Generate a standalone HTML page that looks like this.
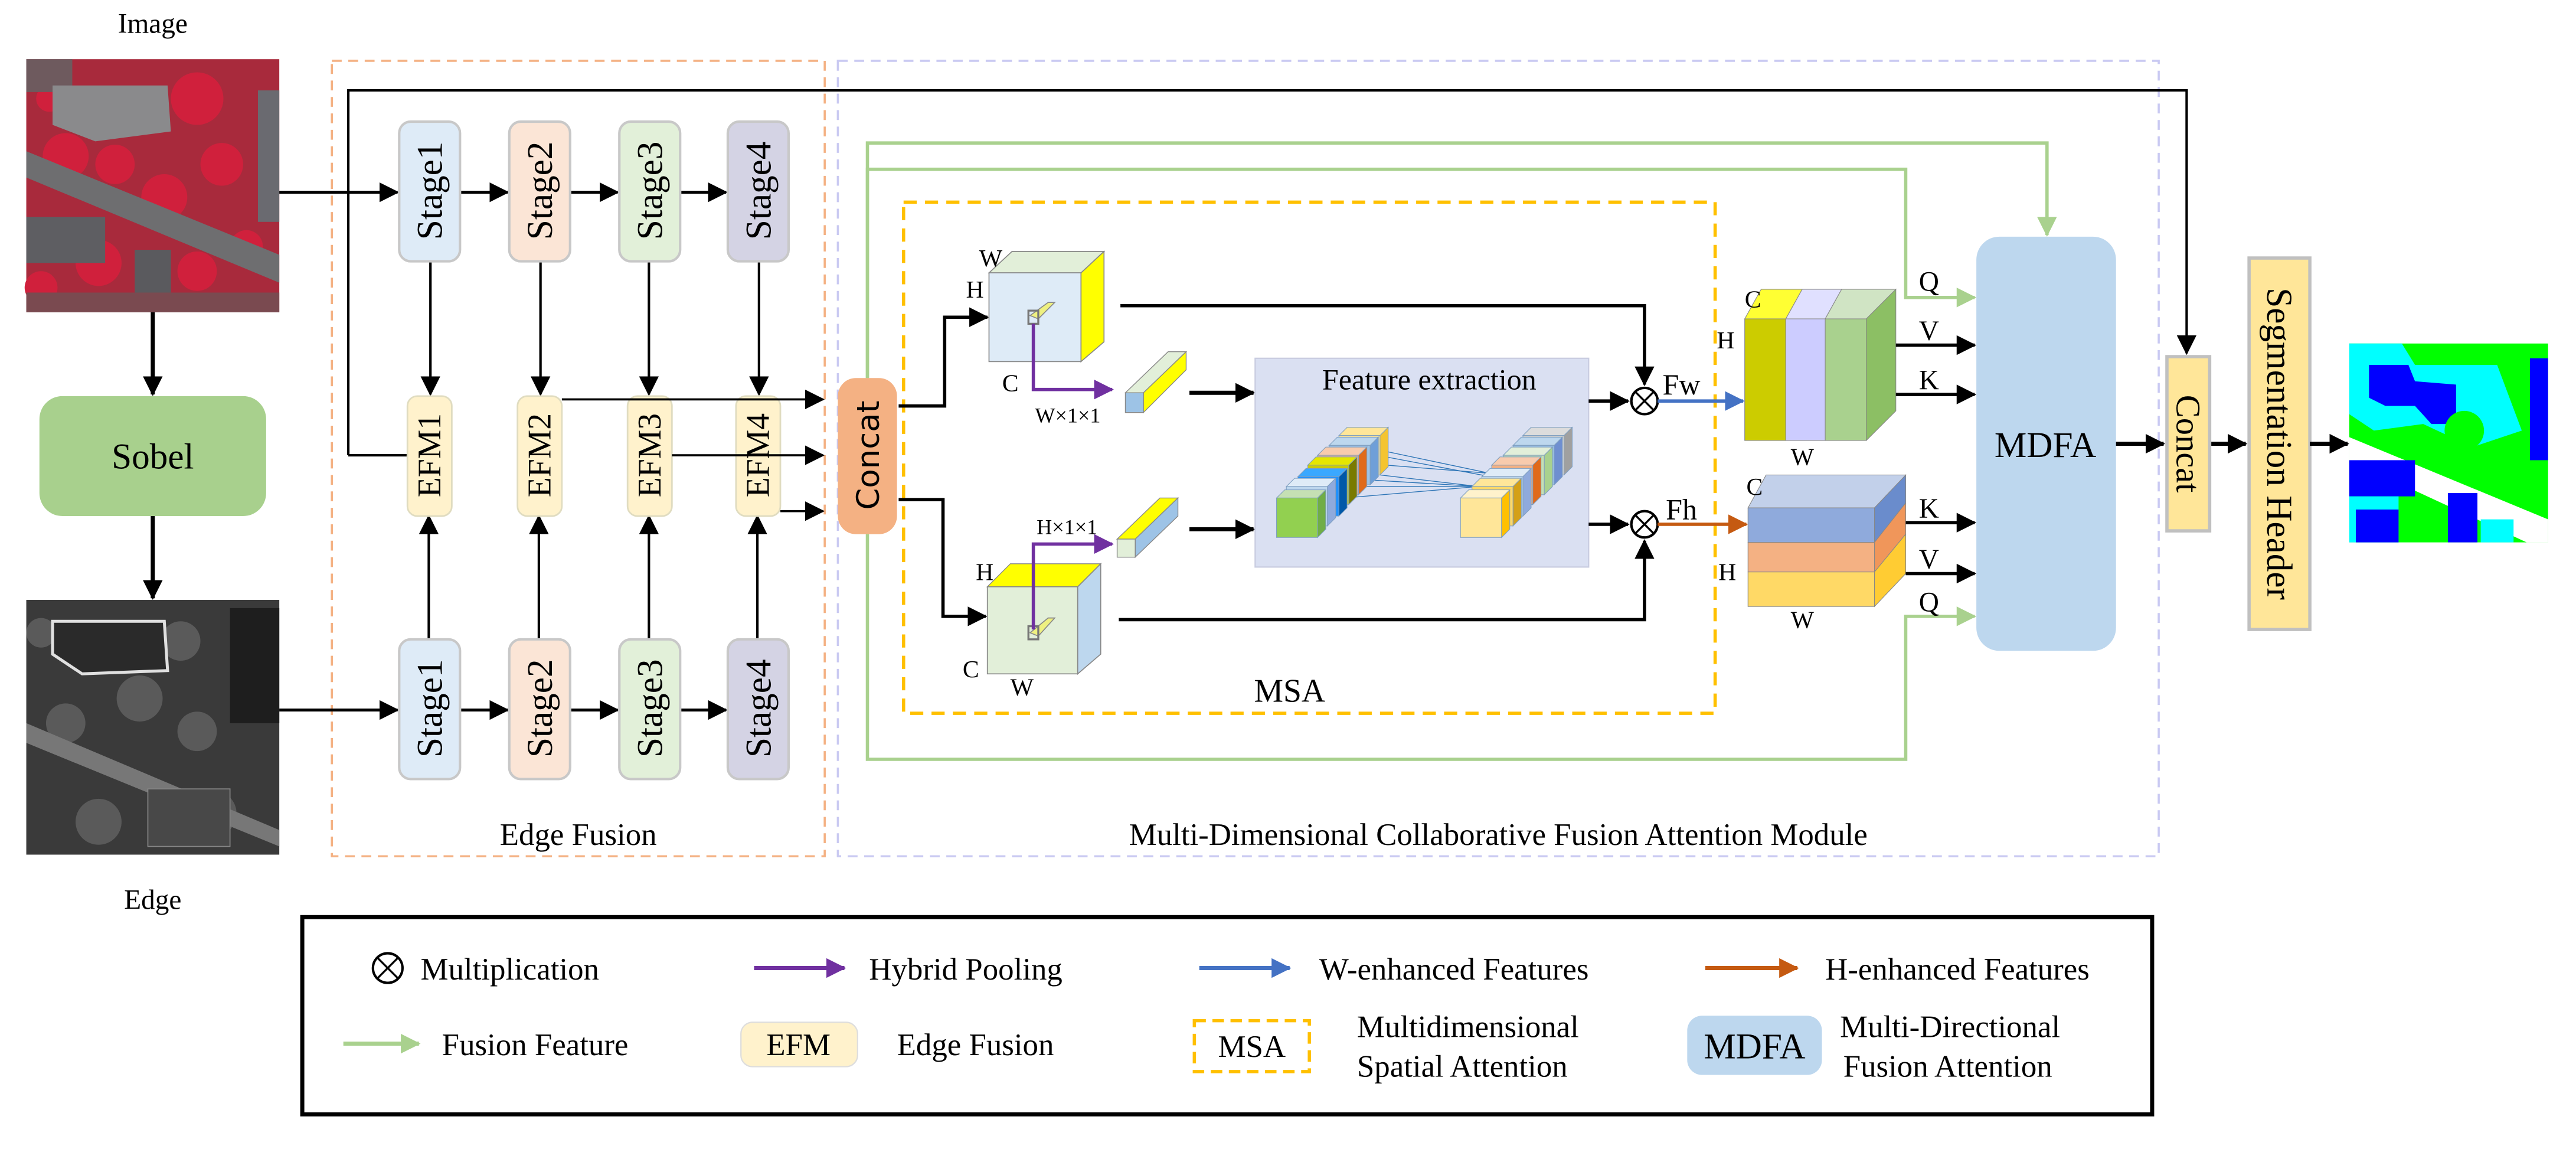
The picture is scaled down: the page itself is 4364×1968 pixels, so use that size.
<!DOCTYPE html>
<html><head><meta charset="utf-8"><style>
html,body{margin:0;padding:0;background:#fff;}
svg{display:block;}
text{font-family:"Liberation Serif",serif;fill:#000;}
.s{font-family:"DejaVu Sans","Liberation Sans",sans-serif;}
</style></head><body>
<svg width="4364" height="1968" viewBox="0 0 1568 707" preserveAspectRatio="none" xmlns="http://www.w3.org/2000/svg">
<defs>
<marker id="akb" markerWidth="12" markerHeight="12" refX="11" refY="6" orient="auto" markerUnits="userSpaceOnUse"><path d="M0,0 L12,6 L0,12 z" fill="#000"/></marker>
<marker id="ap" markerWidth="12" markerHeight="12" refX="11" refY="6" orient="auto" markerUnits="userSpaceOnUse"><path d="M0,0 L12,6 L0,12 z" fill="#7030a0"/></marker>
<marker id="ab" markerWidth="12" markerHeight="12" refX="11" refY="6" orient="auto" markerUnits="userSpaceOnUse"><path d="M0,0 L12,6 L0,12 z" fill="#4472c4"/></marker>
<marker id="ao" markerWidth="12" markerHeight="12" refX="11" refY="6" orient="auto" markerUnits="userSpaceOnUse"><path d="M0,0 L12,6 L0,12 z" fill="#c55a11"/></marker>
<marker id="ag" markerWidth="12" markerHeight="12" refX="11" refY="6" orient="auto" markerUnits="userSpaceOnUse"><path d="M0,0 L12,6 L0,12 z" fill="#a9d18e"/></marker>
</defs>

<!-- Image -->
<text x="93" y="20" font-size="17" text-anchor="middle">Image</text>
<rect x="16" y="36" width="154" height="154" fill="#a82a3c"/>
<g fill="#d0203c">
<circle cx="40" cy="95" r="14"/><circle cx="70" cy="100" r="12"/><circle cx="120" cy="60" r="16"/><circle cx="100" cy="120" r="14"/>
<circle cx="135" cy="100" r="13"/><circle cx="60" cy="160" r="14"/><circle cx="120" cy="165" r="12"/><circle cx="25" cy="175" r="10"/>
<circle cx="150" cy="150" r="10"/><circle cx="30" cy="60" r="8"/>
</g>
<rect x="16" y="36" width="28" height="20" fill="#6e5a5e"/>
<polygon points="32,52 102,52 104,80 58,86 32,76" fill="#8a8a8c"/>
<polygon points="16,92 170,155 170,172 16,108" fill="#6e6e70"/>
<rect x="16" y="132" width="48" height="28" fill="#5e5e62"/>
<rect x="82" y="152" width="22" height="30" fill="#5a5a5e"/>
<rect x="157" y="55" width="13" height="80" fill="#6a6a70"/>
<rect x="16" y="178" width="154" height="12" fill="#7a4a50"/>

<!-- Sobel -->
<line x1="93" y1="190" x2="93" y2="240" stroke="#000" stroke-width="2.5" marker-end="url(#akb)"/>
<rect x="24" y="241" width="138" height="73" rx="14" fill="#a8d08d"/>
<text x="93" y="285" font-size="22" text-anchor="middle">Sobel</text>
<line x1="93" y1="314" x2="93" y2="364" stroke="#000" stroke-width="2.5" marker-end="url(#akb)"/>

<!-- Edge image -->
<rect x="16" y="365" width="154" height="155" fill="#3a3a3a"/>
<g fill="#5a5a5a">
<circle cx="40" cy="440" r="12"/><circle cx="85" cy="425" r="14"/><circle cx="120" cy="445" r="12"/><circle cx="60" cy="500" r="14"/>
<circle cx="130" cy="495" r="14"/><circle cx="25" cy="385" r="9"/><circle cx="110" cy="390" r="12"/>
</g>
<polygon points="32,378 100,378 102,408 50,410 32,398" fill="#2a2a2a" stroke="#e0e0e0" stroke-width="1.8"/>
<polygon points="16,440 170,505 170,515 16,452" fill="#777"/>
<rect x="140" y="370" width="30" height="70" fill="#1e1e1e"/>
<rect x="90" y="480" width="50" height="35" fill="#484848" stroke="#888" stroke-width="0.6"/>
<text x="93" y="553" font-size="17" text-anchor="middle">Edge</text>

<!-- Edge Fusion box -->
<rect x="202" y="37" width="300" height="484" fill="none" stroke="#f4b183" stroke-width="1.3" stroke-dasharray="6,4"/>
<text x="352" y="514" font-size="19" text-anchor="middle">Edge Fusion</text>
<!-- MDCFA box -->
<rect x="510" y="37" width="804" height="484" fill="none" stroke="#c9c9f2" stroke-width="1.3" stroke-dasharray="6,4"/>
<text x="912" y="514" font-size="19" text-anchor="middle">Multi-Dimensional Collaborative Fusion Attention Module</text>

<!-- top line -->
<polyline points="212,277 212,55 1331,55 1331,215" fill="none" stroke="#000" stroke-width="1.5" marker-end="url(#akb)"/>
<line x1="212" y1="277" x2="248" y2="277" stroke="#000" stroke-width="1.5"/>

<!-- stage arrows -->
<g stroke="#000" stroke-width="1.8">
<line x1="170" y1="117" x2="242" y2="117" marker-end="url(#akb)"/>
<line x1="280" y1="117" x2="309" y2="117" marker-end="url(#akb)"/>
<line x1="347" y1="117" x2="376" y2="117" marker-end="url(#akb)"/>
<line x1="414" y1="117" x2="442" y2="117" marker-end="url(#akb)"/>
<line x1="170" y1="432" x2="242" y2="432" marker-end="url(#akb)"/>
<line x1="280" y1="432" x2="309" y2="432" marker-end="url(#akb)"/>
<line x1="347" y1="432" x2="376" y2="432" marker-end="url(#akb)"/>
<line x1="414" y1="432" x2="442" y2="432" marker-end="url(#akb)"/>
<line x1="262" y1="159" x2="262" y2="240" stroke-width="1.5" marker-end="url(#akb)"/>
<line x1="329" y1="159" x2="329" y2="240" stroke-width="1.5" marker-end="url(#akb)"/>
<line x1="395" y1="159" x2="395" y2="240" stroke-width="1.5" marker-end="url(#akb)"/>
<line x1="462" y1="159" x2="462" y2="240" stroke-width="1.5" marker-end="url(#akb)"/>
<line x1="261" y1="389" x2="261" y2="314" stroke-width="1.5" marker-end="url(#akb)"/>
<line x1="328" y1="389" x2="328" y2="314" stroke-width="1.5" marker-end="url(#akb)"/>
<line x1="395" y1="389" x2="395" y2="314" stroke-width="1.5" marker-end="url(#akb)"/>
<line x1="461" y1="389" x2="461" y2="314" stroke-width="1.5" marker-end="url(#akb)"/>
</g>

<!-- stages -->
<g stroke="#c8c8c8" stroke-width="1.5">
<rect x="243" y="74" width="37" height="85" rx="7" fill="#deebf7"/>
<rect x="310" y="74" width="37" height="85" rx="7" fill="#fbe5d6"/>
<rect x="377" y="74" width="37" height="85" rx="7" fill="#e2f0d9"/>
<rect x="443" y="74" width="37" height="85" rx="7" fill="#d4d3e4"/>
<rect x="243" y="389" width="37" height="85" rx="7" fill="#deebf7"/>
<rect x="310" y="389" width="37" height="85" rx="7" fill="#fbe5d6"/>
<rect x="377" y="389" width="37" height="85" rx="7" fill="#e2f0d9"/>
<rect x="443" y="389" width="37" height="85" rx="7" fill="#d4d3e4"/>
</g>
<g font-size="22" text-anchor="middle">
<text transform="translate(269,116) rotate(-90)">Stage1</text>
<text transform="translate(336,116) rotate(-90)">Stage2</text>
<text transform="translate(403,116) rotate(-90)">Stage3</text>
<text transform="translate(469,116) rotate(-90)">Stage4</text>
<text transform="translate(269,431) rotate(-90)">Stage1</text>
<text transform="translate(336,431) rotate(-90)">Stage2</text>
<text transform="translate(403,431) rotate(-90)">Stage3</text>
<text transform="translate(469,431) rotate(-90)">Stage4</text>
</g>

<!-- EFM -->
<g stroke="#e0dcc0" stroke-width="1" fill="#fff2cc">
<rect x="248" y="241" width="27" height="73" rx="6"/>
<rect x="315" y="241" width="27" height="73" rx="6"/>
<rect x="382" y="241" width="27" height="73" rx="6"/>
<rect x="448" y="241" width="27" height="73" rx="6"/>
</g>
<g stroke="#000" stroke-width="1.3">
<line x1="342" y1="243" x2="501" y2="243" marker-end="url(#akb)"/>
<line x1="409" y1="277" x2="501" y2="277" marker-end="url(#akb)"/>
<line x1="475" y1="311" x2="501" y2="311" marker-end="url(#akb)"/>
</g>
<g font-size="20" text-anchor="middle">
<text transform="translate(268,277) rotate(-90)">EFM1</text>
<text transform="translate(335,277) rotate(-90)">EFM2</text>
<text transform="translate(402,277) rotate(-90)">EFM3</text>
<text transform="translate(468,277) rotate(-90)">EFM4</text>
</g>

<!-- green lines -->
<g fill="none" stroke="#a9d18e" stroke-width="2">
<polyline points="528,230 528,87 1246,87 1246,143" marker-end="url(#ag)"/>
<polyline points="528,230 528,103 1160,103 1160,181 1202,181" marker-end="url(#ag)"/>
<polyline points="528,325 528,462 1160,462 1160,375 1202,375" marker-end="url(#ag)"/>
</g>

<!-- Concat 1 -->
<rect x="510" y="230" width="36" height="95" rx="11" fill="#f4b183"/>
<text class="s" transform="translate(535,277) rotate(-90)" font-size="19" text-anchor="middle">Concat</text>

<!-- MSA box -->
<rect x="550" y="123" width="494" height="311" fill="none" stroke="#ffc000" stroke-width="2" stroke-dasharray="8,5"/>
<text x="785" y="427" font-size="20" text-anchor="middle">MSA</text>

<!-- concat to cubes -->
<polyline points="547,247 575,247 575,193 601,193" fill="none" stroke="#000" stroke-width="2" marker-end="url(#akb)"/>
<polyline points="547,304 574,304 574,375 600,375" fill="none" stroke="#000" stroke-width="2" marker-end="url(#akb)"/>

<!-- upper cube -->
<polygon points="602,166 616,153 672,153 658,166" fill="#e2efd9" stroke="#888" stroke-width="0.6"/>
<rect x="602" y="166" width="56" height="54" fill="#deebf7" stroke="#888" stroke-width="0.6"/>
<polygon points="658,166 672,153 672,208 658,220" fill="#ffff00" stroke="#888" stroke-width="0.6"/>
<polygon points="627,192 638,184 642,184 632,194" fill="#eef080" stroke="#888" stroke-width="0.6"/>
<rect x="626" y="189" width="6" height="8" fill="none" stroke="#777" stroke-width="1.2"/>
<text x="596" y="162" font-size="15">W</text>
<text x="588" y="181" font-size="15">H</text>
<text x="610" y="238" font-size="15">C</text>
<polyline points="629,197 629,237 677,237" fill="none" stroke="#7030a0" stroke-width="2" marker-end="url(#ap)"/>
<text x="630" y="257" font-size="13">W×1×1</text>
<!-- small bar W -->
<polygon points="685,239 711,214 722,214 696,239" fill="#e2efd9" stroke="#888" stroke-width="0.5"/>
<polygon points="696,239 722,214 722,225 696,251" fill="#ffff00" stroke="#888" stroke-width="0.5"/>
<rect x="685" y="239" width="11" height="12" fill="#9dc3e6" stroke="#888" stroke-width="0.5"/>
<line x1="724" y1="239" x2="763" y2="239" stroke="#000" stroke-width="2.5" marker-end="url(#akb)"/>

<!-- lower cube -->
<polygon points="601,357 615,343 670,343 656,357" fill="#ffff00" stroke="#888" stroke-width="0.5"/>
<rect x="601" y="357" width="55" height="53" fill="#e2efd9" stroke="#888" stroke-width="0.6"/>
<polygon points="656,357 670,343 670,398 656,410" fill="#bdd7ee" stroke="#888" stroke-width="0.6"/>
<polygon points="627,385 638,376 642,376 632,387" fill="#eef080" stroke="#888" stroke-width="0.6"/>
<rect x="626" y="381" width="6" height="8" fill="none" stroke="#777" stroke-width="1.2"/>
<text x="594" y="353" font-size="15">H</text>
<text x="586" y="412" font-size="15">C</text>
<text x="615" y="423" font-size="15">W</text>
<polyline points="629,383 629,331 677,331" fill="none" stroke="#7030a0" stroke-width="2" marker-end="url(#ap)"/>
<text x="631" y="325" font-size="13">H×1×1</text>
<!-- small bar H -->
<polygon points="680,328 706,303 717,303 691,328" fill="#ffff00" stroke="#888" stroke-width="0.5"/>
<polygon points="691,328 717,303 717,314 691,339" fill="#9dc3e6" stroke="#888" stroke-width="0.5"/>
<rect x="680" y="328" width="11" height="11" fill="#e2efd9" stroke="#888" stroke-width="0.5"/>
<line x1="724" y1="322" x2="763" y2="322" stroke="#000" stroke-width="2.5" marker-end="url(#akb)"/>

<!-- Feature extraction -->
<rect x="764" y="218" width="203" height="127" fill="#dae0f2" stroke="#c8cce0" stroke-width="0.8"/>
<text x="870" y="237" font-size="18" text-anchor="middle">Feature extraction</text>
<g stroke="#2e75b6" stroke-width="0.5">
<line x1="812" y1="268" x2="907" y2="288"/><line x1="812" y1="272" x2="907" y2="290"/>
<line x1="806" y1="285" x2="900" y2="296"/><line x1="800" y1="290" x2="900" y2="296"/>
<line x1="806" y1="296" x2="900" y2="296"/><line x1="795" y1="305" x2="900" y2="296"/>
<line x1="806" y1="280" x2="907" y2="288"/>
</g>
<g stroke="#7f9fc0" stroke-width="0.4">
<g transform="translate(815,265)"><polygon points="0,0 5,-5 30,-5 25,0" fill="#ffe699"/><rect width="25" height="24" fill="#ffe699"/><polygon points="25,0 30,-5 30,19 25,24" fill="#f4c430"/></g>
<g transform="translate(809,271)"><polygon points="0,0 5,-5 30,-5 25,0" fill="#bdd7ee"/><rect width="25" height="24" fill="#9dc3e6"/><polygon points="25,0 30,-5 30,19 25,24" fill="#6f9fd8"/></g>
<g transform="translate(802,277)"><polygon points="0,0 5,-5 30,-5 25,0" fill="#f8cbad"/><rect width="25" height="24" fill="#f4b183"/><polygon points="25,0 30,-5 30,19 25,24" fill="#e06a1a"/></g>
<g transform="translate(796,283)"><polygon points="0,0 5,-5 30,-5 25,0" fill="#e6e600"/><rect width="25" height="24" fill="#cccc00"/><polygon points="25,0 30,-5 30,19 25,24" fill="#7a7a00"/></g>
<g transform="translate(790,290)"><polygon points="0,0 5,-5 30,-5 25,0" fill="#3aa8ff"/><rect width="25" height="24" fill="#1e90ff"/><polygon points="25,0 30,-5 30,19 25,24" fill="#0058a8"/></g>
<g transform="translate(783,296)"><polygon points="0,0 5,-5 30,-5 25,0" fill="#deebf7"/><rect width="25" height="24" fill="#bdd7ee"/><polygon points="25,0 30,-5 30,19 25,24" fill="#8faadc"/></g>
<g transform="translate(777,303)"><polygon points="0,0 5,-5 30,-5 25,0" fill="#c5e0b4"/><rect width="25" height="24" fill="#92d050"/><polygon points="25,0 30,-5 30,19 25,24" fill="#70ad47"/></g>
</g>
<g stroke="#7f9fc0" stroke-width="0.4">
<g transform="translate(927,265)"><polygon points="0,0 5,-5 30,-5 25,0" fill="#dcdcdc"/><rect width="25" height="24" fill="#d0d0d0"/><polygon points="25,0 30,-5 30,19 25,24" fill="#a0a0a0"/></g>
<g transform="translate(921,271)"><polygon points="0,0 5,-5 30,-5 25,0" fill="#bdd7ee"/><rect width="25" height="24" fill="#9dc3e6"/><polygon points="25,0 30,-5 30,19 25,24" fill="#6f8fd0"/></g>
<g transform="translate(915,277)"><polygon points="0,0 5,-5 30,-5 25,0" fill="#e2efd9"/><rect width="25" height="24" fill="#c5e0b4"/><polygon points="25,0 30,-5 30,19 25,24" fill="#a9d18e"/></g>
<g transform="translate(908,283)"><polygon points="0,0 5,-5 30,-5 25,0" fill="#f8cbad"/><rect width="25" height="24" fill="#f4b183"/><polygon points="25,0 30,-5 30,19 25,24" fill="#e06a1a"/></g>
<g transform="translate(902,290)"><polygon points="0,0 5,-5 30,-5 25,0" fill="#deebf7"/><rect width="25" height="24" fill="#bdd7ee"/><polygon points="25,0 30,-5 30,19 25,24" fill="#8faadc"/></g>
<g transform="translate(896,296)"><polygon points="0,0 5,-5 30,-5 25,0" fill="#ffe699"/><rect width="25" height="24" fill="#ffd966"/><polygon points="25,0 30,-5 30,19 25,24" fill="#d4a017"/></g>
<g transform="translate(889,303)"><polygon points="0,0 5,-5 30,-5 25,0" fill="#fff2cc"/><rect width="25" height="24" fill="#ffe699"/><polygon points="25,0 30,-5 30,19 25,24" fill="#ffc000"/></g>
</g>

<!-- multiplication paths -->
<polyline points="682,186 1001,186 1001,234" fill="none" stroke="#000" stroke-width="2" marker-end="url(#akb)"/>
<line x1="967" y1="244" x2="991" y2="244" stroke="#000" stroke-width="2" marker-end="url(#akb)"/>
<circle cx="1001" cy="244" r="8" fill="#fff" stroke="#000" stroke-width="1.5"/>
<line x1="995.3" y1="238.3" x2="1006.7" y2="249.7" stroke="#000" stroke-width="1.2"/>
<line x1="1006.7" y1="238.3" x2="995.3" y2="249.7" stroke="#000" stroke-width="1.2"/>
<text x="1012" y="240" font-size="18">Fw</text>
<line x1="1009" y1="244" x2="1061" y2="244" stroke="#4472c4" stroke-width="2" marker-end="url(#ab)"/>

<polyline points="681,377 1001,377 1001,329" fill="none" stroke="#000" stroke-width="2" marker-end="url(#akb)"/>
<line x1="967" y1="319" x2="991" y2="319" stroke="#000" stroke-width="2" marker-end="url(#akb)"/>
<circle cx="1001" cy="319" r="8" fill="#fff" stroke="#000" stroke-width="1.5"/>
<line x1="995.3" y1="313.3" x2="1006.7" y2="324.7" stroke="#000" stroke-width="1.2"/>
<line x1="1006.7" y1="313.3" x2="995.3" y2="324.7" stroke="#000" stroke-width="1.2"/>
<text x="1014" y="316" font-size="18">Fh</text>
<line x1="1009" y1="319" x2="1063" y2="319" stroke="#c55a11" stroke-width="2" marker-end="url(#ao)"/>

<!-- upper output block -->
<polygon points="1062,194 1072,176 1097,176 1087,194" fill="#ffff33" stroke="#888" stroke-width="0.4"/>
<polygon points="1087,194 1097,176 1121,176 1111,194" fill="#e0e0ff" stroke="#888" stroke-width="0.4"/>
<polygon points="1111,194 1121,176 1154,176 1136,194" fill="#d0e4c4" stroke="#888" stroke-width="0.4"/>
<rect x="1062" y="194" width="25" height="74" fill="#cccc00" stroke="#888" stroke-width="0.4"/>
<rect x="1087" y="194" width="24" height="74" fill="#ccccff" stroke="#888" stroke-width="0.4"/>
<rect x="1111" y="194" width="25" height="74" fill="#a9d18e" stroke="#888" stroke-width="0.4"/>
<polygon points="1136,194 1154,176 1154,250 1136,268" fill="#8cbf64" stroke="#888" stroke-width="0.4"/>
<text x="1062" y="187" font-size="15">C</text>
<text x="1045" y="212" font-size="15">H</text>
<text x="1090" y="283" font-size="15">W</text>

<!-- lower output block -->
<polygon points="1064,309 1075,289 1160,289 1141,309" fill="#c2d0ea" stroke="#888" stroke-width="0.4"/>
<rect x="1064" y="309" width="77" height="21" fill="#8faadc" stroke="#888" stroke-width="0.4"/>
<rect x="1064" y="330" width="77" height="18" fill="#f4b183" stroke="#888" stroke-width="0.4"/>
<rect x="1064" y="348" width="77" height="21" fill="#ffd966" stroke="#888" stroke-width="0.4"/>
<polygon points="1141,309 1160,289 1160,306 1141,330" fill="#6a8ccc" stroke="#888" stroke-width="0.4"/>
<polygon points="1141,330 1160,306 1160,325 1141,348" fill="#f0965a" stroke="#888" stroke-width="0.4"/>
<polygon points="1141,348 1160,325 1160,349 1141,369" fill="#ffcc33" stroke="#888" stroke-width="0.4"/>
<text x="1063" y="301" font-size="15">C</text>
<text x="1046" y="353" font-size="15">H</text>
<text x="1090" y="382" font-size="15">W</text>

<!-- QVK -->
<g stroke="#000" stroke-width="2">
<line x1="1154" y1="210" x2="1202" y2="210" marker-end="url(#akb)"/>
<line x1="1154" y1="240" x2="1202" y2="240" marker-end="url(#akb)"/>
<line x1="1160" y1="318" x2="1202" y2="318" marker-end="url(#akb)"/>
<line x1="1160" y1="349" x2="1202" y2="349" marker-end="url(#akb)"/>
</g>
<g font-size="17">
<text x="1168" y="177">Q</text>
<text x="1168" y="207">V</text>
<text x="1168" y="237">K</text>
<text x="1168" y="315">K</text>
<text x="1168" y="346">V</text>
<text x="1168" y="372">Q</text>
</g>

<!-- MDFA -->
<rect x="1203" y="144" width="85" height="252" rx="14" fill="#bdd7ee"/>
<text x="1245" y="278" font-size="22" text-anchor="middle">MDFA</text>
<line x1="1288" y1="270" x2="1317" y2="270" stroke="#000" stroke-width="2.5" marker-end="url(#akb)"/>

<!-- Concat2 -->
<rect x="1319" y="217" width="26" height="106" fill="#ffe699" stroke="#c0c0c0" stroke-width="2"/>
<text transform="translate(1325,270) rotate(90)" font-size="21" text-anchor="middle">Concat</text>
<line x1="1346" y1="270" x2="1367" y2="270" stroke="#000" stroke-width="2.5" marker-end="url(#akb)"/>

<!-- Seg header -->
<rect x="1369" y="157" width="37" height="226" fill="#ffe699" stroke="#c0c0c0" stroke-width="2"/>
<text transform="translate(1380,270) rotate(90)" font-size="22" text-anchor="middle">Segmentation Header</text>
<line x1="1406" y1="270" x2="1429" y2="270" stroke="#000" stroke-width="2.5" marker-end="url(#akb)"/>

<!-- Seg output -->
<rect x="1430" y="209" width="121" height="121" fill="#00ff00"/>
<polygon points="1430,209 1462,209 1470,222 1520,222 1535,262 1505,272 1475,258 1445,262 1430,252" fill="#00ffff"/>
<polygon points="1442,222 1466,222 1470,232 1495,234 1495,258 1480,258 1470,247 1452,247 1442,242" fill="#0000ff"/>
<rect x="1540" y="218" width="11" height="62" fill="#0000ff"/>
<circle cx="1500" cy="262" r="12" fill="#00ff00"/><circle cx="1465" cy="280" r="10" fill="#00ff00"/>
<polygon points="1430,266 1551,316 1551,330 1538,330 1430,280" fill="#ffffff"/>
<rect x="1430" y="280" width="40" height="22" fill="#0000ff"/>
<rect x="1430" y="302" width="30" height="28" fill="#00ffff"/>
<rect x="1434" y="310" width="26" height="20" fill="#0000ff"/>
<rect x="1490" y="300" width="18" height="30" fill="#0000ff"/>
<rect x="1510" y="316" width="20" height="14" fill="#00ffff"/>

<!-- Legend -->
<rect x="184" y="558" width="1126" height="120" fill="none" stroke="#000" stroke-width="2.5"/>
<circle cx="236" cy="589" r="9" fill="none" stroke="#000" stroke-width="1.5"/>
<line x1="229.6" y1="582.6" x2="242.4" y2="595.4" stroke="#000" stroke-width="1.2"/>
<line x1="242.4" y1="582.6" x2="229.6" y2="595.4" stroke="#000" stroke-width="1.2"/>
<g font-size="19">
<text x="256" y="596">Multiplication</text>
<text x="529" y="596">Hybrid Pooling</text>
<text x="803" y="596">W-enhanced Features</text>
<text x="1111" y="596">H-enhanced Features</text>
<text x="269" y="642">Fusion Feature</text>
<text x="546" y="642">Edge Fusion</text>
<text x="826" y="631">Multidimensional</text>
<text x="826" y="655">Spatial Attention</text>
<text x="1120" y="631">Multi-Directional</text>
<text x="1122" y="655">Fusion Attention</text>
</g>
<line x1="459" y1="589" x2="514" y2="589" stroke="#7030a0" stroke-width="2.5" marker-end="url(#ap)"/>
<line x1="730" y1="589" x2="785" y2="589" stroke="#4472c4" stroke-width="2.5" marker-end="url(#ab)"/>
<line x1="1038" y1="589" x2="1094" y2="589" stroke="#c55a11" stroke-width="2.5" marker-end="url(#ao)"/>
<line x1="209" y1="635" x2="255" y2="635" stroke="#a9d18e" stroke-width="2.5" marker-end="url(#ag)"/>
<rect x="451" y="622" width="71" height="27" rx="7" fill="#fff2cc" stroke="#ddd" stroke-width="0.8"/>
<text x="486" y="642" font-size="19" text-anchor="middle">EFM</text>
<rect x="727" y="621" width="70" height="31" fill="none" stroke="#ffc000" stroke-width="2" stroke-dasharray="7,4"/>
<text x="762" y="643" font-size="19" text-anchor="middle">MSA</text>
<rect x="1027" y="618" width="82" height="36" rx="9" fill="#bdd7ee"/>
<text x="1068" y="644" font-size="22" text-anchor="middle">MDFA</text>
</svg>
</body></html>
